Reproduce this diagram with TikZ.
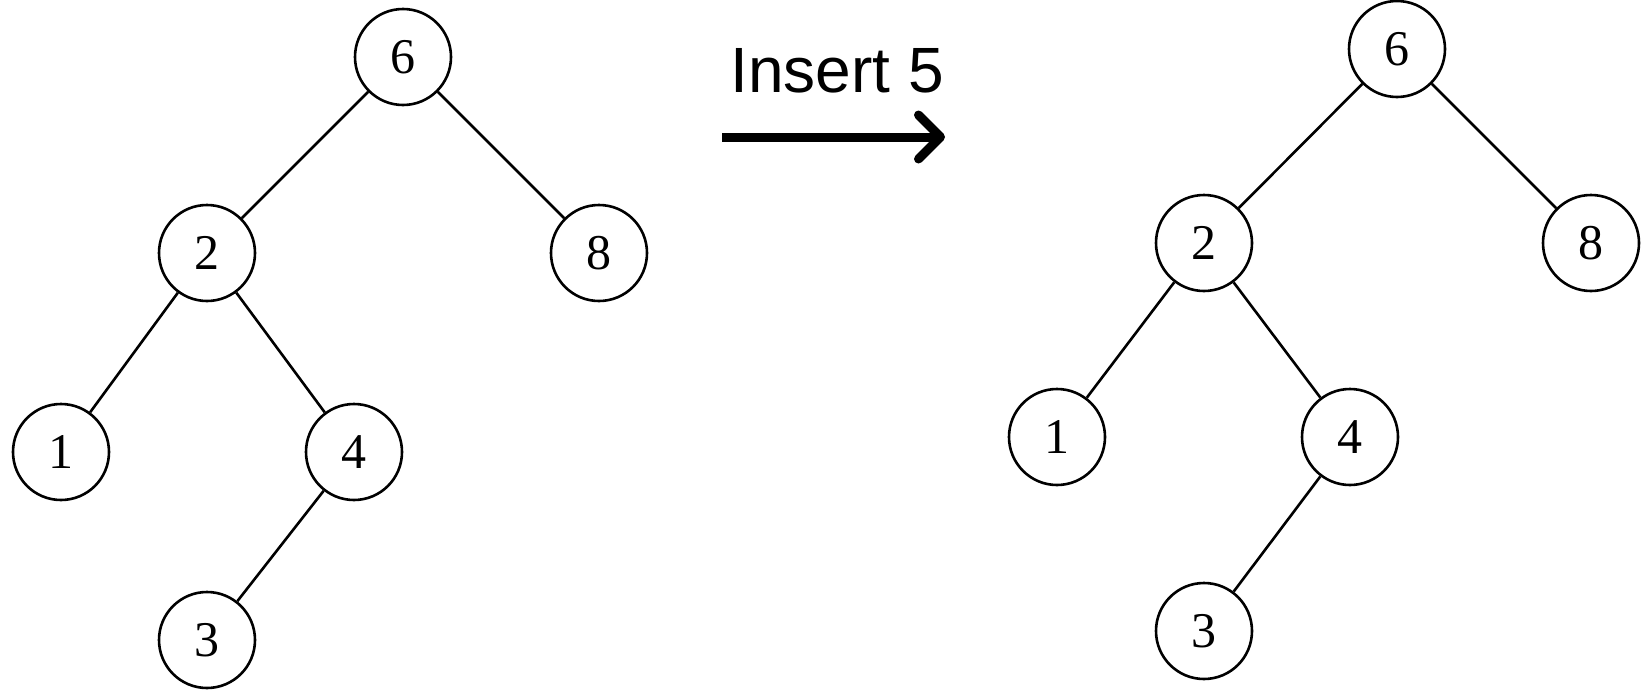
\documentclass[tikz,border=0pt]{standalone}
\usepackage{fontspec}
\setmainfont{Liberation Serif}
\newfontfamily\labelfont{Liberation Sans}
\usetikzlibrary{arrows.meta}
\begin{document}
\begin{tikzpicture}[x=1pt,y=-1pt,
  treenode/.style={circle,draw,line width=2.6pt,minimum size=96pt,inner sep=0pt,
    font=\fontsize{50}{60}\selectfont},
  branch/.style={line width=2.6pt},
  steparrow/.style={line width=9pt,-{Straight Barb[length=22pt,width=44pt,line cap=round,line join=round]}}]
\useasboundingbox (0,0) rectangle (1641,699);
% tree before insertion
\node[treenode] (a6) at (403,57) {6};
\node[treenode] (a2) at (207,253) {2};
\node[treenode] (a8) at (599,253) {8};
\node[treenode] (a1) at (61,452) {1};
\node[treenode] (a4) at (354,452) {4};
\node[treenode] (a3) at (207,640) {3};
\draw[branch] (a6) -- (a2);
\draw[branch] (a6) -- (a8);
\draw[branch] (a2) -- (a1);
\draw[branch] (a2) -- (a4);
\draw[branch] (a4) -- (a3);
% tree after insertion
\node[treenode] (b6) at (1397,49) {6};
\node[treenode] (b2) at (1204,243) {2};
\node[treenode] (b8) at (1591,243) {8};
\node[treenode] (b1) at (1057,437) {1};
\node[treenode] (b4) at (1350,437) {4};
\node[treenode] (b3) at (1204,631) {3};
\draw[branch] (b6) -- (b2);
\draw[branch] (b6) -- (b8);
\draw[branch] (b2) -- (b1);
\draw[branch] (b2) -- (b4);
\draw[branch] (b4) -- (b3);
% operation label and arrow
\node[font=\labelfont\fontsize{64}{72}\selectfont] (lbl) at (837,71) {Insert 5};
\coordinate (p) at (722,137);
\coordinate (q) at (945,137);
\draw[steparrow] (p) -- (q);
\end{tikzpicture}
\end{document}
